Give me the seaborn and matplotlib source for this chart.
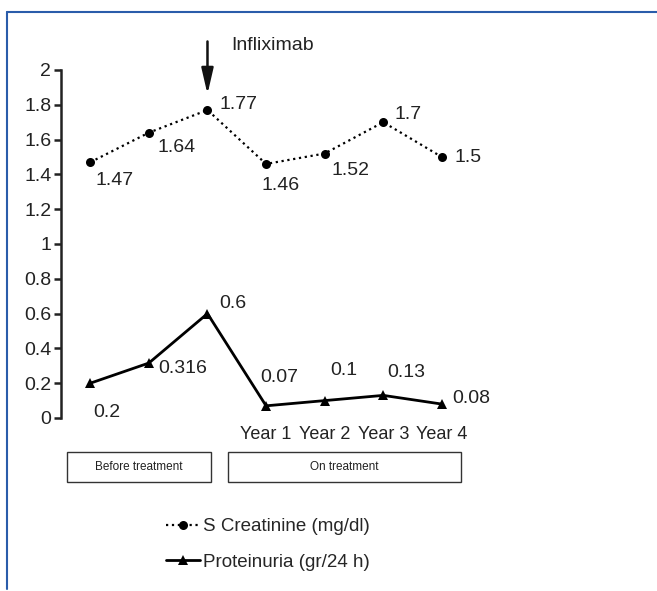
import matplotlib
matplotlib.use("Agg")
import matplotlib.pyplot as plt
import seaborn as sns
import pandas as pd
from matplotlib.lines import Line2D
from matplotlib.patches import Rectangle

sns.set_theme(style="white")
plt.rcParams["font.family"] = ["Liberation Sans", "DejaVu Sans"]

# dados
periodos = ["", "", "", "Year 1", "Year 2", "Year 3", "Year 4"]
creatinina = [1.47, 1.64, 1.77, 1.46, 1.52, 1.7, 1.5]
proteinuria = [0.2, 0.316, 0.6, 0.07, 0.1, 0.13, 0.08]
rotulos_creat = ["1.47", "1.64", "1.77", "1.46", "1.52", "1.7", "1.5"]
rotulos_prot = ["0.2", "0.316", "0.6", "0.07", "0.1", "0.13", "0.08"]
yticks = [0, 0.2, 0.4, 0.6, 0.8, 1, 1.2, 1.4, 1.6, 1.8, 2]

# deslocamentos dos rotulos (pixels)
off_creat = [(24, -18), (28, -15), (31, 6), (14, -22), (26, -17), (25, 8), (26, 0)]
off_prot = [(17, -29), (34, -5), (25, 10), (13, 28), (19, 30), (23, 23), (29, 6)]

df = pd.DataFrame({"x": range(len(periodos)), "creat": creatinina, "prot": proteinuria})

fig = plt.figure(figsize=(6.57, 5.91), dpi=100)
ax = fig.add_axes([61 / 657, 1 - 418 / 591, (477 - 61) / 657, (418 - 70) / 591])

sns.lineplot(data=df, x="x", y="creat", ax=ax, color="black", linestyle=":", linewidth=1.6,
             marker="o", markersize=6.5, markeredgewidth=0, label="S Creatinine (mg/dl)")
sns.lineplot(data=df, x="x", y="prot", ax=ax, color="black", linestyle="-", linewidth=2,
             marker="^", markersize=7.5, markeredgewidth=0, label="Proteinuria (gr/24 h)")
for l in ax.lines:
    l.set_clip_on(False)

for i in range(len(periodos)):
    ax.annotate(rotulos_creat[i], (i, creatinina[i]), xytext=off_creat[i], textcoords="offset pixels",
                ha="center", va="center", fontsize=14, color="#222222")
    ax.annotate(rotulos_prot[i], (i, proteinuria[i]), xytext=off_prot[i], textcoords="offset pixels",
                ha="center", va="center", fontsize=14, color="#222222")

ax.set_xlim(-0.5, 6.6)
ax.set_ylim(0, 2)
ax.set_yticks(yticks)
ax.set_yticklabels([f"{v:g}" for v in yticks], fontsize=14, color="#222222")
ax.set_xticks(range(len(periodos)))
ax.set_xticklabels(periodos, fontsize=13, color="#222222")
ax.tick_params(axis="y", left=True, length=5, width=1.8, pad=2, color="#222222")
ax.tick_params(axis="x", bottom=False, pad=0)
ax.set_xlabel("")
ax.set_ylabel("")
for s in ["top", "right", "bottom"]:
    ax.spines[s].set_visible(False)
ax.spines["left"].set_linewidth(1.8)
ax.spines["left"].set_color("#222222")

# seta Infliximab
ax.annotate("", xy=(2, 1.845), xytext=(2, 2.18), annotation_clip=False,
            arrowprops=dict(arrowstyle="-|>,head_length=1.3,head_width=0.3", color="#111111", lw=1.8))
ax.text(2.41, 2.138, "Infliximab", fontsize=14, va="center", ha="left", color="#222222", clip_on=False)

# caixas de periodo
for x0, x1, txt in [(67, 211, "Before treatment"), (228, 461, "On treatment")]:
    fig.add_artist(Rectangle((x0 / 657, 1 - 482 / 591), (x1 - x0) / 657, 30 / 591,
                             transform=fig.transFigure, fill=False, edgecolor="#333333", lw=1))
    fig.text((x0 + x1) / 2 / 657, 1 - 467 / 591, txt, ha="center", va="center", fontsize=8.5, color="#222222")

# legenda
handles, labels = ax.get_legend_handles_labels()
ax.get_legend().remove()
fig.legend(handles, labels, loc="upper left", bbox_to_anchor=(166 / 657, 1 - 518 / 591),
           frameon=False, fontsize=13.5, handlelength=1.8, handletextpad=0.15, labelspacing=1.0,
           borderpad=0, borderaxespad=0)

# moldura azul
fig.add_artist(Line2D([7 / 657, 1], [1 - 12 / 591] * 2, transform=fig.transFigure, color="#2a5caa", lw=1.5))
fig.add_artist(Line2D([7 / 657] * 2, [1 - 12 / 591, 1 - 589 / 591], transform=fig.transFigure, color="#2a5caa", lw=1.5))

fig.savefig("out.png", dpi=100)
